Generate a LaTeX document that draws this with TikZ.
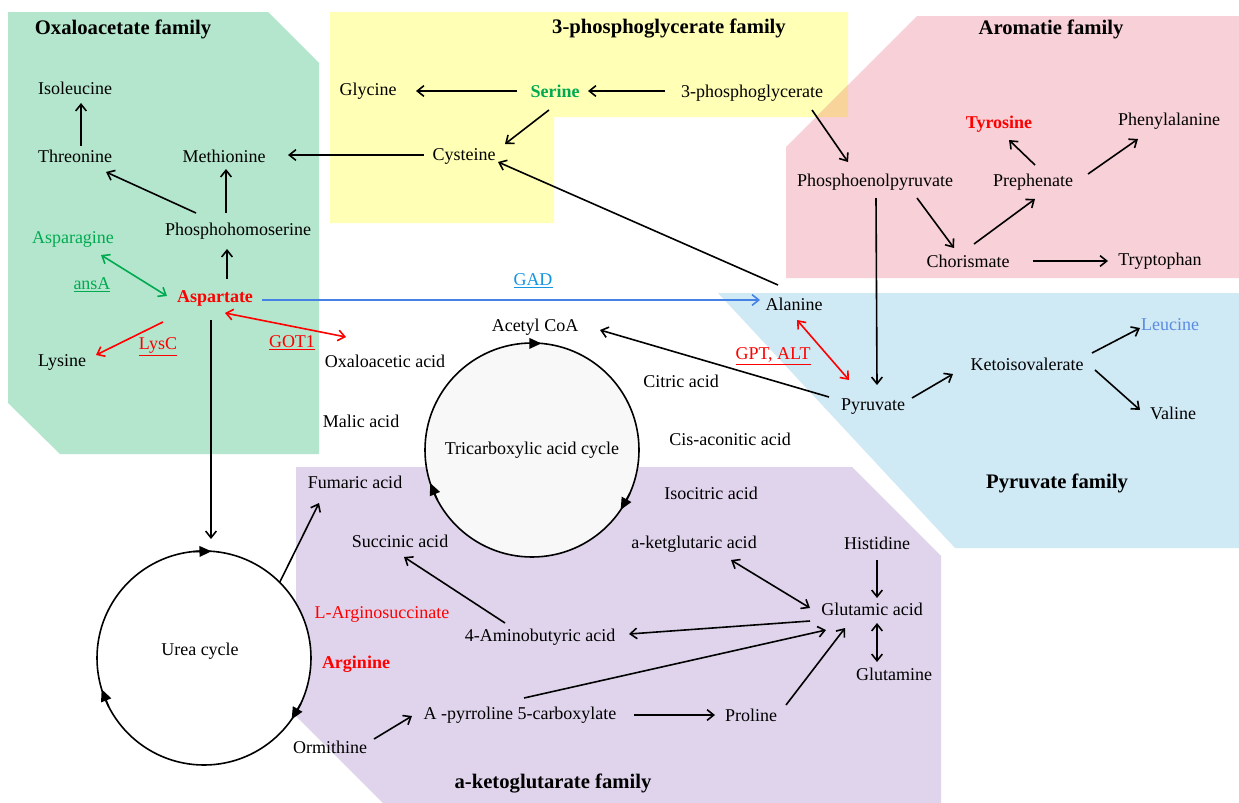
\documentclass[tikz,border=0pt]{standalone}
\usepackage{fontspec}
\setmainfont{Liberation Serif}
\usetikzlibrary{arrows.meta,calc}
\definecolor{cgreen}{RGB}{179,230,204}
\definecolor{cyellow}{RGB}{255,255,182}
\definecolor{cpink}{RGB}{248,208,215}
\definecolor{corange}{RGB}{248,212,155}
\definecolor{cblue}{RGB}{207,233,245}
\definecolor{cpurple}{RGB}{224,212,236}
\definecolor{tcafill}{RGB}{248,248,248}
\definecolor{gtext}{RGB}{0,170,80}
\definecolor{gadcol}{RGB}{20,150,225}
\definecolor{leucol}{RGB}{90,140,225}
\definecolor{bluearr}{RGB}{70,130,230}
\begin{document}
\begin{tikzpicture}[x=0.75pt,y=-0.75pt,
  lbl/.style={font=\fontsize{13.5}{15}\selectfont, inner sep=2pt},
  ttl/.style={font=\fontsize{15.5}{18}\selectfont\bfseries, inner sep=2pt},
  arr/.style={line width=1.2pt, -{Straight Barb[length=5pt,width=8pt]}},
  darr/.style={line width=1.2pt, {Straight Barb[length=5pt,width=8pt]}-{Straight Barb[length=5pt,width=8pt]}},
  cyc/.style={circle, draw, line width=1.2pt, minimum size=160.5pt, inner sep=0pt, outer sep=0pt, font=\fontsize{13.5}{15}\selectfont},
  tip/.style={line width=1.2pt, -{Triangle[length=9pt,width=8pt]}}
]
\useasboundingbox (0,0) rectangle (1239,803);
\fill[white] (0,0) rectangle (1239,803);
% regions
\fill[cgreen] (8,12) -- (268,12) -- (319,63) -- (319,454) -- (60,454) -- (8,403) -- cycle;
\fill[cyellow] (330,12) -- (848,12) -- (848,117) -- (554,117) -- (554,223) -- (330,223) -- cycle;
\fill[cpink] (917,16) -- (1239,16) -- (1239,278) -- (786,278) -- (786,147) -- cycle;
\fill[corange] (848,85) -- (848,117) -- (816,117) -- cycle;
\fill[cblue] (718,293) -- (1239,293) -- (1239,548) -- (955,548) -- cycle;
\fill[cpurple] (296,467) -- (852,467) -- (941,556) -- (941,803) -- (383,803) -- (296,716) -- cycle;

% titles
\node[ttl] (t1) at (123,29) {Oxaloacetate family};
\node[ttl] (t2) at (669,29) {3-phosphoglycerate family};
\node[ttl] (t3) at (1051,29) {Aromatie family};
\node[ttl] (t4) at (1057,483) {Pyruvate family};
\node[ttl] (t5) at (553,783) {a-ketoglutarate family};

% cycles
\node[cyc, fill=tcafill] (tca) at (532,450) {Tricarboxylic acid cycle};
\node[cyc, fill=white] (urea) at (204,658) {};
\node[lbl] (ureat) at (200,651) {Urea cycle};

% oxaloacetate family
\node[lbl] (ile) at (75,88) {Isoleucine};
\node[lbl] (thr) at (75,156) {Threonine};
\node[lbl] (meth) at (224,156) {Methionine};
\node[lbl] (phs) at (238,231) {Phosphohomoserine};
\node[lbl, text=gtext] (asn) at (73,239) {Asparagine};
\node[lbl, text=gtext] (ansa) at (92,285) {\underline{ansA}};
\node[lbl, text=red, font=\fontsize{13.5}{15}\selectfont\bfseries] (asp) at (215,298) {Aspartate};
\node[lbl] (lys) at (62,362) {Lysine};
\node[lbl, text=red] (lysc) at (158,347) {\underline{LysC}};
\node[lbl, text=red] (got) at (292,343) {\underline{GOT1}};

% 3-phosphoglycerate family
\node[lbl] (gly) at (368,91) {Glycine};
\node[lbl, text=gtext, font=\fontsize{13.5}{15}\selectfont\bfseries] (ser) at (555,91) {Serine};
\node[lbl] (pg3) at (752,93) {3-phosphoglycerate};
\node[lbl] (cys) at (464,156) {Cysteine};

% aromatic family
\node[lbl, text=red, font=\fontsize{13.5}{15}\selectfont\bfseries] (tyr) at (999,124) {Tyrosine};
\node[lbl] (phe) at (1169,121) {Phenylalanine};
\node[lbl] (pep) at (875,182) {Phosphoenolpyruvate};
\node[lbl] (prep) at (1033,182) {Prephenate};
\node[lbl] (chor) at (968,261) {Chorismate};
\node[lbl] (try) at (1160,261) {Tryptophan};

% middle
\node[lbl, text=gadcol] (gad) at (533,281) {\underline{GAD}};
\node[lbl] (ala) at (794,304) {Alanine};
\node[lbl] (acoa) at (535,327) {Acetyl CoA};
\node[lbl] (oaa) at (385,361) {Oxaloacetic acid};
\node[lbl] (cit) at (681,381) {Citric acid};
\node[lbl, text=red] (gpt) at (773,356) {\underline{GPT, ALT}};
\node[lbl] (mal) at (361,421) {Malic acid};
\node[lbl] (cis) at (730,439) {Cis-aconitic acid};

% pyruvate family
\node[lbl] (pyr) at (873,407) {Pyruvate};
\node[lbl] (keto) at (1027,364) {Ketoisovalerate};
\node[lbl, text=leucol] (leu) at (1170,325) {Leucine};
\node[lbl] (val) at (1173,413) {Valine};

% a-ketoglutarate family
\node[lbl] (fum) at (355,482) {Fumaric acid};
\node[lbl] (iso) at (711,493) {Isocitric acid};
\node[lbl] (succ) at (400,541) {Succinic acid};
\node[lbl] (akg) at (694,544) {a-ketglutaric acid};
\node[lbl] (his) at (877,543) {Histidine};
\node[lbl] (glu) at (872,609) {Glutamic acid};
\node[lbl, text=red] (args) at (382,614) {L-Arginosuccinate};
\node[lbl] (gaba) at (540,637) {4-Aminobutyric acid};
\node[lbl, text=red, font=\fontsize{13.5}{15}\selectfont\bfseries] (arg) at (356,664) {Arginine};
\node[lbl] (gln) at (894,674) {Glutamine};
\node[lbl] (pyrr) at (520,715) {A -pyrroline 5-carboxylate};
\node[lbl] (pro) at (751,715) {Proline};
\node[lbl] (orm) at (330,747) {Ormithine};

% cycle arrow tips
\draw[tip] (tca.95) -- (tca.85);
\draw[tip] (tca.-24) -- (tca.-34);
\draw[tip] (tca.208) -- (tca.198);
\draw[tip] (urea.96) -- (urea.86);
\draw[tip] (urea.-25) -- (urea.-35);
\draw[tip] (urea.207) -- (urea.197);

% connectors
\draw[arr] ($(thr)+(6,-10)$) -- ($(ile)+(6,15)$);
\draw[arr] ($(phs)+(-42,-18)$) -- ($(thr)+(31,16)$);
\draw[arr] ($(phs)+(-12,-18)$) -- ($(meth)+(2,13)$);
\draw[arr] ($(asp)+(12,-19)$) -- ($(phs)+(-11,18)$);
\draw[darr, gtext] ($(asn)+(28,16)$) -- ($(asp)+(-48,-2)$);
\draw[arr, red] ($(asp)+(-52,24)$) -- ($(lys)+(34,-7)$);
\draw[darr, red] ($(asp)+(10,15)$) -- ($(oaa)+(-39,-24)$);
\draw[arr, bluearr] ($(asp)+(47,2)$) -- ($(ala)+(-34,-4)$);
\draw[arr] ($(asp)+(-4,22)$) -- ($(urea)+(7,-119)$);
\draw[arr] ($(cys)+(-40,-1)$) -- ($(meth)+(64,-1)$);
\draw[arr] ($(pg3)+(-87,-2)$) -- ($(ser)+(33,0)$);
\draw[arr] ($(ser)+(-38,0)$) -- ($(gly)+(48,0)$);
\draw[arr] ($(ser)+(-6,19)$) -- ($(cys)+(41,-12)$);
\draw[arr] ($(ala)+(-16,-19)$) -- ($(cys)+(34,6)$);
\draw[arr] ($(pg3)+(60,17)$) -- ($(pep)+(-27,-20)$);
\draw[arr] ($(pep)+(1,16)$) -- ($(pyr)+(4,-22)$);
\draw[arr] ($(pep)+(42,16)$) -- ($(chor)+(-14,-13)$);
\draw[arr] ($(chor)+(6,-17)$) -- ($(prep)+(2,17)$);
\draw[arr] ($(prep)+(2,-17)$) -- ($(tyr)+(10,16)$);
\draw[arr] ($(prep)+(55,-8)$) -- ($(phe)+(-31,18)$);
\draw[arr] ($(chor)+(65,0)$) -- ($(try)+(-52,0)$);
\draw[darr, red] ($(ala)+(3,16)$) -- ($(pyr)+(-24,-27)$);
\draw[arr] ($(pyr)+(-44,-10)$) -- ($(acoa)+(65,3)$);
\draw[arr] ($(pyr)+(39,-9)$) -- ($(keto)+(-74,10)$);
\draw[arr] ($(keto)+(65,-11)$) -- ($(leu)+(-30,3)$);
\draw[arr] ($(keto)+(68,6)$) -- ($(val)+(-33,-3)$);
\draw[arr] (urea.45) -- ($(fum)+(-36,21)$);
\draw[arr] ($(gaba)+(-35,-14)$) -- ($(succ)+(4,16)$);
\draw[darr] ($(akg)+(37,16)$) -- ($(glu)+(-62,-1)$);
\draw[arr] ($(his)+(0,17)$) -- ($(glu)+(5,-11)$);
\draw[darr] ($(glu)+(5,14)$) -- ($(gln)+(-17,-12)$);
\draw[arr] ($(glu)+(-62,12)$) -- ($(gaba)+(89,-3)$);
\draw[arr] ($(pyrr)+(4,-17)$) -- ($(glu)+(-46,21)$);
\draw[arr] ($(pro)+(35,-10)$) -- ($(glu)+(-27,19)$);
\draw[arr] ($(pyrr)+(114,0)$) -- ($(pro)+(-36,0)$);
\draw[arr] ($(orm)+(44,-8)$) -- ($(pyrr)+(-108,1)$);
\end{tikzpicture}
\end{document}
